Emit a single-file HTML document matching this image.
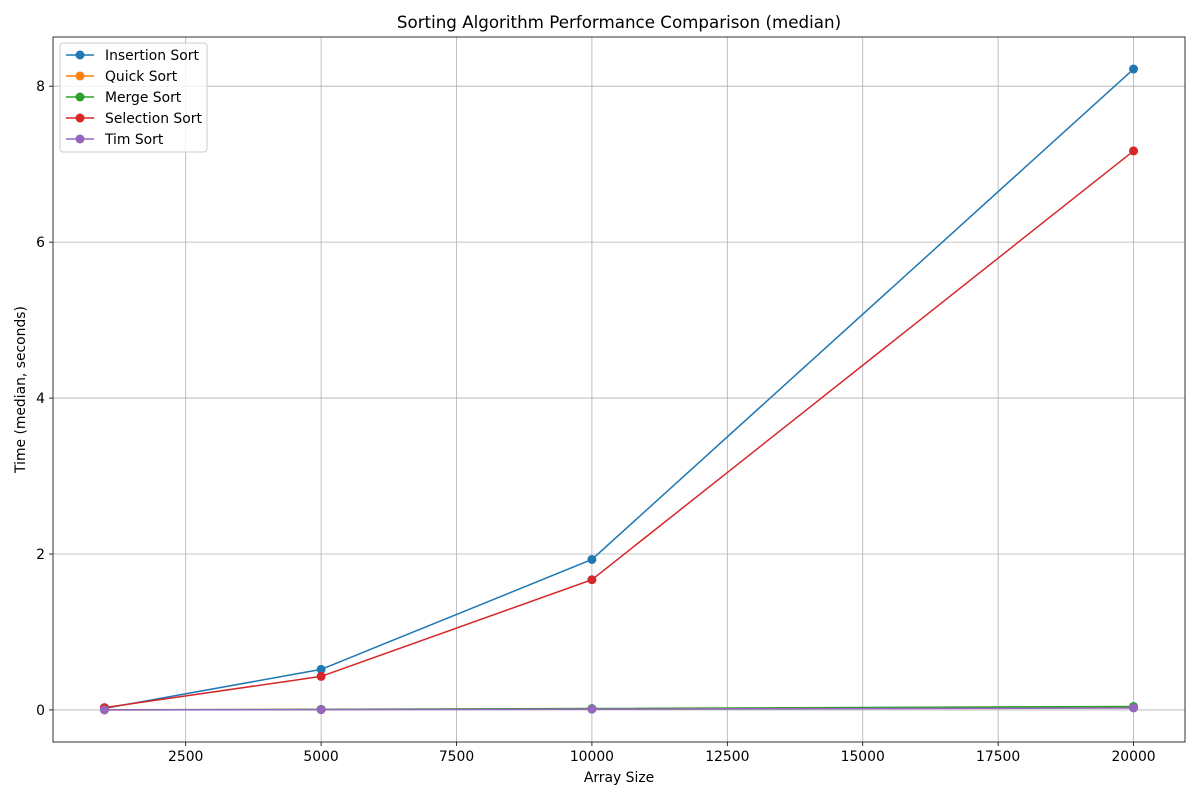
<!DOCTYPE html>
<html><head><meta charset="utf-8"><style>
body{margin:0;background:#fff;font-family:"DejaVu Sans","Liberation Sans",sans-serif;}
</style></head><body>
<svg id="chart" width="1200" height="800" xmlns="http://www.w3.org/2000/svg" font-family="DejaVu Sans, Liberation Sans, sans-serif"></svg>
<script>
const categories=[1000,5000,10000,20000];
const seriesNames=["Insertion Sort","Quick Sort","Merge Sort","Selection Sort","Tim Sort"];
const seriesColors=["#1f77b4","#ff7f0e","#2ca02c","#d62728","#9467bd"];
const insertion=[0.02,0.52,1.93,8.22];
const quick=[0.001,0.006,0.013,0.03];
const merge=[0.002,0.008,0.018,0.045];
const selection=[0.03,0.43,1.67,7.17];
const tim=[0.001,0.004,0.01,0.025];
const xTicks=[2500,5000,7500,10000,12500,15000,17500,20000];
const yTicks=[0,2,4,6,8];

const L=53,R=1185,T=37,B=742;
const xmin=50,xmax=20950,ymin=-0.411,ymax=8.631;
const sx=v=>L+(v-xmin)/(xmax-xmin)*(R-L);
const sy=v=>B-(v-ymin)/(ymax-ymin)*(B-T);
const svg=document.getElementById('chart');
const NS="http://www.w3.org/2000/svg";
function mk(tag,attrs,parent){const e=document.createElementNS(NS,tag);for(const k in attrs)e.setAttribute(k,attrs[k]);(parent||svg).appendChild(e);return e;}
function txt(s,attrs){const e=mk('text',attrs);e.textContent=s;return e;}

xTicks.forEach(t=>{
 const g=mk('line',{x1:sx(t),x2:sx(t),y1:T,y2:B,stroke:'#b0b0b0','stroke-width':0.8});
 
 
 mk('line',{x1:sx(t),x2:sx(t),y1:B,y2:B+4,stroke:'#000','stroke-width':0.8});
 const l=txt(t,{x:sx(t),y:B+19,'text-anchor':'middle','font-size':13.9});
 
 
});
yTicks.forEach(t=>{
 const g=mk('line',{x1:L,x2:R,y1:sy(t),y2:sy(t),stroke:'#b0b0b0','stroke-width':0.8});
 
 
 mk('line',{x1:L-4,x2:L,y1:sy(t),y2:sy(t),stroke:'#000','stroke-width':0.8});
 const l=txt(t,{x:L-8,y:sy(t)+5,'text-anchor':'end','font-size':13.9});
 
 
});
const frame=mk('rect',{x:L,y:T,width:R-L,height:B-T,fill:'none',stroke:'#000','stroke-width':0.8});



const all=[insertion,quick,merge,selection,tim];
all.forEach((vals,i)=>{
 const g=mk('g',{});
 
 
 mk('polyline',{points:vals.map((v,j)=>sx(categories[j])+','+sy(v)).join(' '),fill:'none',stroke:seriesColors[i],'stroke-width':1.5},g);
 vals.forEach((v,j)=>{
  const c=mk('circle',{cx:sx(categories[j]),cy:sy(v),r:4.5,fill:seriesColors[i]},g);
  
  
 });
});

const t=txt('Sorting Algorithm Performance Comparison (median)',{x:(L+R)/2,y:28,'text-anchor':'middle','font-size':16.7});


const xt=txt('Array Size',{x:(L+R)/2,y:782,'text-anchor':'middle','font-size':13.9});


const yt=txt('Time (median, seconds)',{x:0,y:0,'text-anchor':'middle','font-size':13.9,transform:'translate(25,'+((T+B)/2)+') rotate(-90)'});



const lg=mk('g',{});


mk('rect',{x:60,y:43,width:147,height:109,rx:3,fill:'#fff','fill-opacity':0.8,stroke:'#ccc'},lg);
seriesNames.forEach((n,i)=>{
 const y=55+i*21;
 const e=mk('g',{},lg);
 
 
 mk('line',{x1:66,x2:94,y1:y,y2:y,stroke:seriesColors[i],'stroke-width':1.5},e);
 mk('circle',{cx:80,cy:y,r:4.5,fill:seriesColors[i]},e);
 const tx=mk('text',{x:105,y:y+5,'font-size':13.9},e);tx.textContent=n;
});
</script>
</body></html>
